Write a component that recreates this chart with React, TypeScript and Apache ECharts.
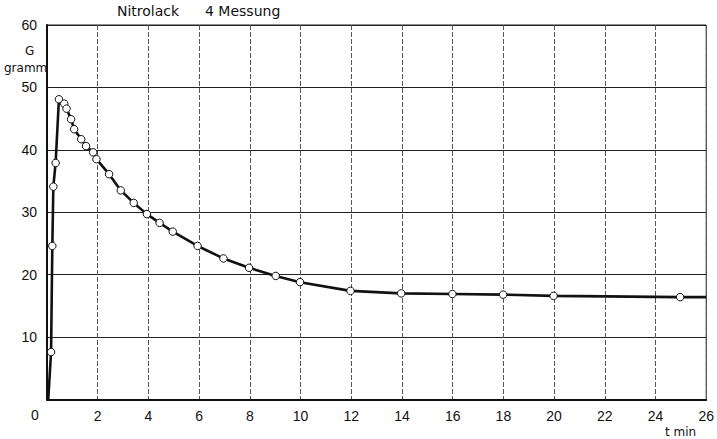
import React, { useEffect, useRef } from "react";
import * as echarts from "echarts";

// time in minutes
const timeMin = [0.05, 0.16, 0.21, 0.25, 0.34, 0.47, 0.68, 0.77, 0.95, 1.07, 1.35, 1.54, 1.82, 1.95, 2.45, 2.91, 3.42, 3.94, 4.44, 4.96, 5.94, 6.96, 7.97, 9.02, 9.98, 11.97, 13.97, 15.99, 17.99, 19.98, 24.97, 26];
// weight in gramm
const weightG = [0, 7.6, 24.6, 34.1, 37.9, 48.1, 47.4, 46.6, 44.9, 43.3, 41.7, 40.6, 39.6, 38.5, 36.1, 33.5, 31.5, 29.7, 28.3, 26.9, 24.6, 22.6, 21.1, 19.8, 18.8, 17.4, 17.0, 16.9, 16.8, 16.6, 16.4, 16.4];
// which points carry a measurement circle
const measured = [false, true, true, true, true, true, true, true, true, true, true, true, true, true, true, true, true, true, true, true, true, true, true, true, true, true, true, true, true, true, true, false];

const titleLeft = "Nitrolack";
const titleRight = "4 Messung";
const yUnit1 = "G";
const yUnit2 = "gramm";
const xUnit = "t min";

export default function App() {
  const ref = useRef<HTMLDivElement>(null);
  useEffect(() => {
    if (!ref.current) return;
    const chart = echarts.init(ref.current, null, { renderer: "svg" });
    const font = "Liberation Sans";
    const tfont = "DejaVu Sans";
    const data = timeMin.map((t, i) =>
      measured[i] ? [t, weightG[i]] : { value: [t, weightG[i]], symbol: "none" }
    );
    chart.setOption({
      animation: false,
      backgroundColor: "#fff",
      grid: {
        left: 47,
        right: 8,
        top: 25,
        bottom: 39.5,
        show: true,
        borderColor: "#222",
        borderWidth: 1,
      },
      xAxis: {
        type: "value",
        min: 0,
        max: 26,
        interval: 2,
        axisLine: { show: true, onZero: false, lineStyle: { color: "#111", width: 2 } },
        axisTick: { show: false },
        axisLabel: {
          color: "#111",
          fontFamily: font,
          fontSize: 14,
          margin: 9,
          formatter: (v: number) => (v === 0 ? "" : String(v)),
        },
        splitLine: { show: true, lineStyle: { color: "#555", width: 1, type: [5, 2] } },
      },
      yAxis: {
        type: "value",
        min: 0,
        max: 60,
        interval: 10,
        axisLine: { show: true, onZero: false, lineStyle: { color: "#111", width: 2 } },
        axisTick: { show: false },
        axisLabel: {
          color: "#111",
          fontFamily: font,
          fontSize: 14,
          margin: 10,
          formatter: (v: number) => (v === 0 ? "" : String(v)),
        },
        splitLine: { show: true, lineStyle: { color: "#222", width: 1, type: "solid" } },
      },
      graphic: [
        { type: "text", left: 117, top: 4, style: { text: titleLeft, font: `14px ${tfont}`, fill: "#111" } },
        { type: "text", left: 205, top: 4, style: { text: titleRight, font: `14px ${tfont}`, fill: "#111" } },
        { type: "text", left: 25, top: 45, style: { text: yUnit1, font: `12px ${tfont}`, fill: "#111" } },
        { type: "text", left: 4, top: 62, style: { text: yUnit2, font: `12px ${tfont}`, fill: "#111" } },
        { type: "text", left: 31, top: 408, style: { text: "0", font: `14px ${font}`, fill: "#111" } },
        { type: "text", left: 665, top: 426, style: { text: xUnit, font: `12px ${tfont}`, fill: "#111" } },
      ],
      series: [
        {
          type: "line",
          data,
          smooth: false,
          symbol: "circle",
          symbolSize: 7.5,
          showAllSymbol: true,
          lineStyle: { color: "#111", width: 2.6 },
          itemStyle: { color: "#fff", borderColor: "#111", borderWidth: 1 },
          z: 5,
        },
      ],
    });
    return () => chart.dispose();
  }, []);
  return (
    <div
      ref={ref}
      style={{ width: 717, height: 439, position: "fixed", left: 0, top: 0 }}
    />
  );
}
